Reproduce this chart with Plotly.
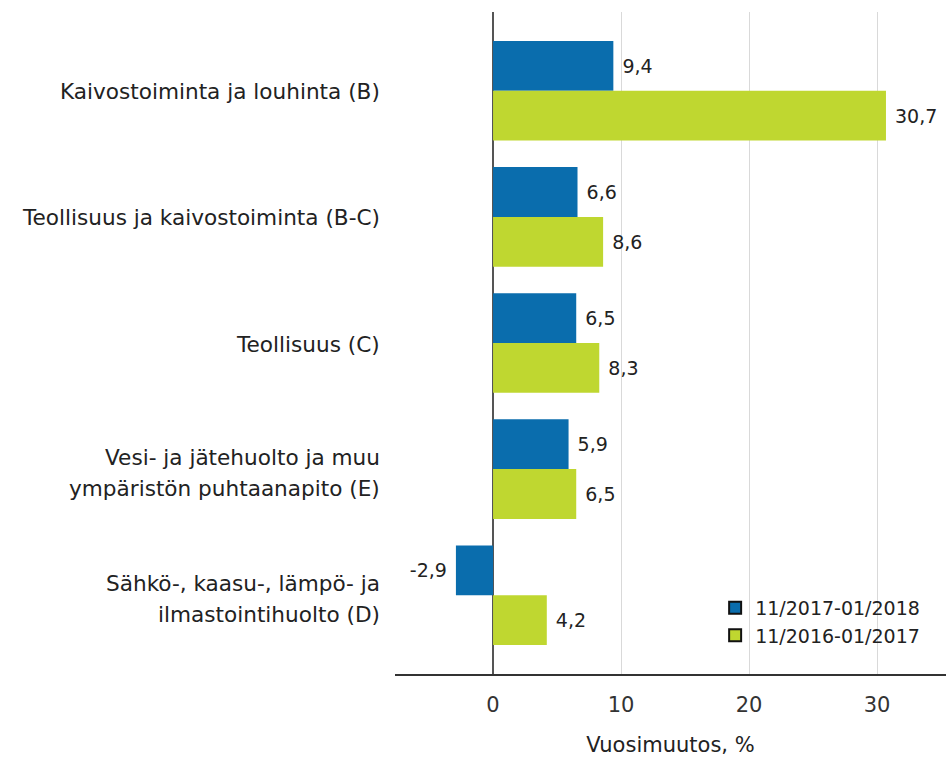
import plotly.graph_objects as go

categories = [
    "Kaivostoiminta ja louhinta (B)",
    "Teollisuus ja kaivostoiminta (B-C)",
    "Teollisuus (C)",
    "Vesi- ja jätehuolto ja muu<br>ympäristön puhtaanapito (E)",
    "Sähkö-, kaasu-, lämpö- ja<br>ilmastointihuolto (D)",
]
series_names = ["11/2017-01/2018", "11/2016-01/2017"]
values_2018 = [9.4, 6.6, 6.5, 5.9, -2.9]
values_2017 = [30.7, 8.6, 8.3, 6.5, 4.2]
x_ticks = [0, 10, 20, 30]

colors = ["#0a6dad", "#bfd730"]
FONT = "DejaVu Sans"
TXT = "#222222"

def fmt(v):
    return "\u00a0" + f"{v:.1f}".replace(".", ",") + "\u00a0"

idx = list(range(len(categories)))
fig = go.Figure()
for name, vals, col in zip(series_names, [values_2018, values_2017], colors):
    fig.add_trace(go.Bar(
        y=idx, x=vals, orientation="h", name=name,
        marker=dict(color=col, line=dict(width=0)),
        text=[fmt(v) for v in vals], textposition="outside",
        textfont=dict(family=FONT, size=19, color=TXT),
        cliponaxis=False, constraintext="none", showlegend=False,
    ))
# legend entries: squares with dark outline
for name, col in zip(series_names, colors):
    fig.add_trace(go.Scatter(
        y=[None], x=[None], mode="markers", name=name,
        marker=dict(color=col, symbol="square", size=13,
                    line=dict(color="#111111", width=1.5)),
        showlegend=True,
    ))

annotations = []
for i, cat in enumerate(categories):
    lines = cat.split("<br>")
    n = len(lines)
    for j, line in enumerate(lines):
        annotations.append(dict(
            x=0, xref="paper", y=i, yref="y", text=line, showarrow=False,
            xanchor="right", yanchor="middle", xshift=-13,
            yshift=((n - 1) / 2 - j) * 31 - (3.5 if n > 1 else 1),
            font=dict(family=FONT, size=21.6, color=TXT),
        ))

fig.update_layout(
    width=946, height=758,
    margin=dict(l=395, r=0, t=12, b=84),
    paper_bgcolor="white", plot_bgcolor="white",
    barmode="group", bargap=0.21, bargroupgap=0,
    font=dict(family=FONT, color=TXT),
    annotations=annotations,
    legend=dict(
        x=0.581, xanchor="left", y=0.029, yanchor="bottom",
        font=dict(family=FONT, size=19, color=TXT),
        bgcolor="rgba(0,0,0,0)", tracegroupgap=0, itemsizing="constant",
    ),
    xaxis=dict(
        range=[-7.66, 35.39], tickvals=x_ticks, ticktext=[str(t) for t in x_ticks],
        showgrid=True, gridcolor="#d9d9d9", gridwidth=1,
        zeroline=True, zerolinecolor="#555555", zerolinewidth=2,
        showline=True, linecolor="#333333", linewidth=2,
        ticks="", ticklabelstandoff=11,
        tickfont=dict(family=FONT, size=21, color="#333333"),
        title=dict(text="Vuosimuutos, %", font=dict(family=FONT, size=21, color=TXT), standoff=21),
        fixedrange=True,
    ),
    yaxis=dict(
        range=[4.625, -0.625], showticklabels=False, showgrid=False,
        zeroline=False, showline=False, ticks="", fixedrange=True,
    ),
)

fig.write_html(
    "out.html",
    config={"displayModeBar": False, "staticPlot": True},
    post_script="document.body.style.margin='0';document.body.style.overflow='hidden';",
)
